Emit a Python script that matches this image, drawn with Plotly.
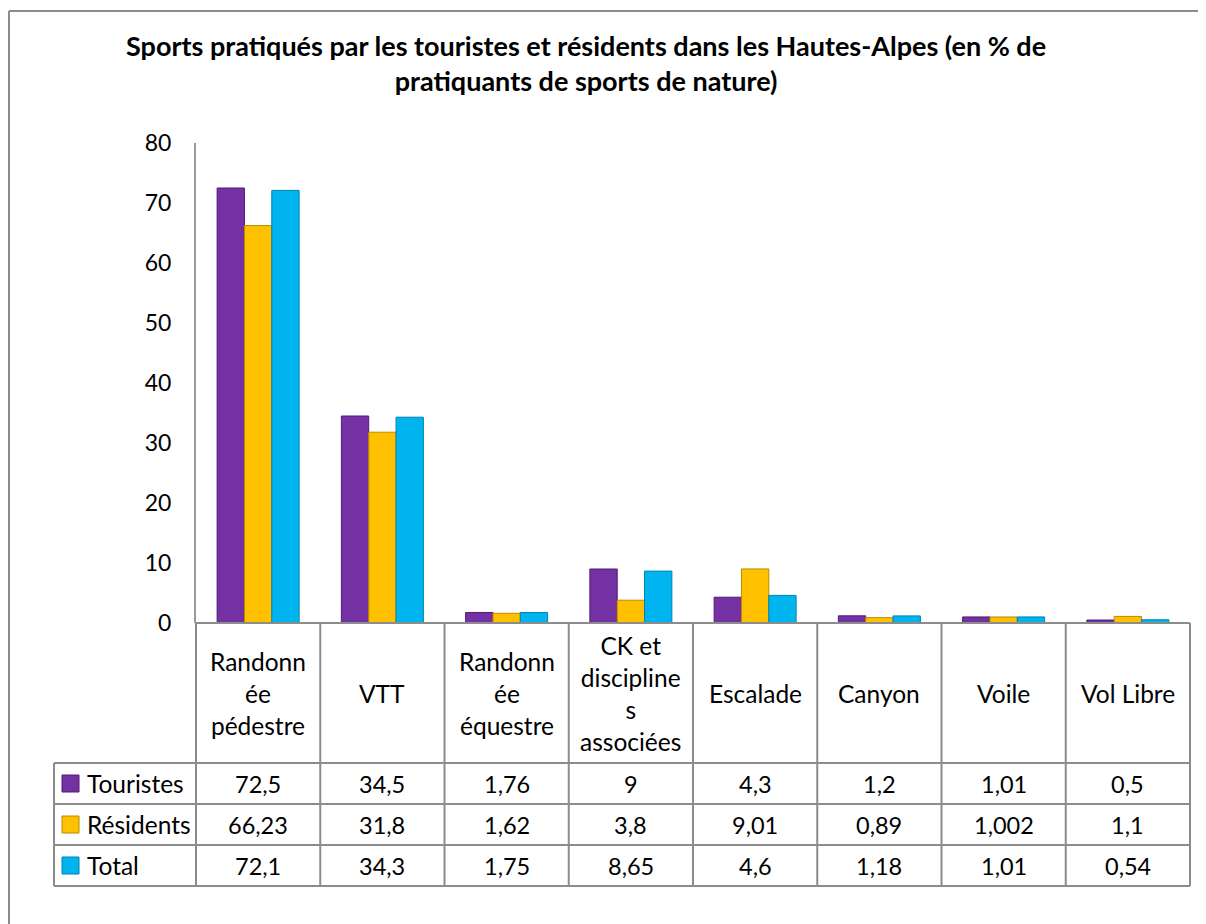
import plotly.graph_objects as go

categories = ["Randonnée pédestre", "VTT", "Randonnée équestre", "CK et disciplines associées",
              "Escalade", "Canyon", "Voile", "Vol Libre"]
category_labels = ["Randonn<br>ée<br>pédestre", "VTT", "Randonn<br>ée<br>équestre",
                   "CK et<br>discipline<br>s<br>associées", "Escalade", "Canyon", "Voile", "Vol Libre"]
series_names = ["Touristes", "Résidents", "Total"]
touristes = [72.5, 34.5, 1.76, 9, 4.3, 1.2, 1.01, 0.5]
residents = [66.23, 31.8, 1.62, 3.8, 9.01, 0.89, 1.002, 1.1]
total = [72.1, 34.3, 1.75, 8.65, 4.6, 1.18, 1.01, 0.54]
y_ticks = [0, 10, 20, 30, 40, 50, 60, 70, 80]

colors = ["#7331A3", "#FFC000", "#00B4EF"]
edge_colors = ["#4F1F73", "#B88A00", "#0083AF"]
FONT = "Lato"

OFF = 8  # page body margin offset
W, H = 1206 - OFF, 924 - OFF
PL, PR, PT, PB = 196, 1190, 143, 623  # plot area bounds in page pixels


def px(x):
    return (x - PL) / (PR - PL)


def py(y):
    return (PB - y) / (PB - PT)


fig = go.Figure()
for name, vals, c, ec in zip(series_names, [touristes, residents, total], colors, edge_colors):
    fig.add_trace(go.Bar(x=categories, y=vals, name=name, marker=dict(color=c, line=dict(color=ec, width=1))))

fig.update_layout(
    width=W, height=H,
    margin=dict(l=PL - OFF, r=W - (PR - OFF), t=PT - OFF, b=H - (PB - OFF), pad=0),
    paper_bgcolor="white", plot_bgcolor="white",
    barmode="group", bargap=0.34, bargroupgap=0,
    showlegend=False,
    font=dict(family=FONT, color="black"),
)
fig.update_yaxes(range=[0, 80], tickvals=y_ticks, showgrid=False, zeroline=False,
                 showline=True, linecolor="#9a9a9a", linewidth=2, ticks="",
                 ticklabelstandoff=18, tickfont=dict(size=23, family=FONT))
fig.update_xaxes(showticklabels=False, showgrid=False, zeroline=False, showline=False, ticks="")

line = dict(color="#8c8c8c", width=2)
shapes = []
# outer chart border (left and top)
shapes.append(dict(type="line", xref="paper", yref="paper", x0=px(9), x1=px(1215), y0=py(11), y1=py(11), line=line))
shapes.append(dict(type="line", xref="paper", yref="paper", x0=px(9), x1=px(9), y0=py(11), y1=py(940), line=line))

col_w = (PR - PL) / len(categories)
row_top = 763
row_h = 41
table_bottom = row_top + row_h * len(series_names)
leg_left = 54
# table horizontals
shapes.append(dict(type="line", xref="paper", yref="paper", x0=px(PL), x1=px(PR), y0=py(PB), y1=py(PB), line=line))
for i in range(len(series_names) + 1):
    y = row_top + i * row_h
    shapes.append(dict(type="line", xref="paper", yref="paper", x0=px(leg_left), x1=px(PR), y0=py(y), y1=py(y), line=line))
# table verticals
for j in range(len(categories) + 1):
    x = PL + j * col_w
    shapes.append(dict(type="line", xref="paper", yref="paper", x0=px(x), x1=px(x), y0=py(PB), y1=py(table_bottom), line=line))
shapes.append(dict(type="line", xref="paper", yref="paper", x0=px(leg_left), x1=px(leg_left), y0=py(row_top), y1=py(table_bottom), line=line))

annotations = []
# title
annotations.append(dict(xref="paper", yref="paper", x=px(586), y=py(63), xanchor="center", yanchor="middle",
                        showarrow=False, align="center",
                        text="<b>Sports pratiqués par les touristes et résidents dans les Hautes-Alpes (en % de<br>pratiquants de sports de nature)</b>",
                        font=dict(size=27, family=FONT, color="black")))
# category headers
for j, lab in enumerate(category_labels):
    annotations.append(dict(xref="paper", yref="paper", x=px(PL + (j + 0.5) * col_w), y=py((PB + row_top) / 2),
                            xanchor="center", yanchor="middle", showarrow=False, align="center",
                            text=lab, font=dict(size=24.5, family=FONT, color="black")))


def fmt(v):
    return f"{v:g}".replace(".", ",")


for i, (name, vals, c, ec) in enumerate(zip(series_names, [touristes, residents, total], colors, edge_colors)):
    yc = row_top + (i + 0.5) * row_h
    shapes.append(dict(type="rect", xref="paper", yref="paper", x0=px(62), x1=px(79), y0=py(yc - 8.5), y1=py(yc + 8.5),
                       fillcolor=c, line=dict(color=ec, width=1)))
    annotations.append(dict(xref="paper", yref="paper", x=px(85), y=py(yc), xanchor="left", yanchor="middle",
                            showarrow=False, text=name, font=dict(size=24.5, family=FONT, color="black")))
    for j, v in enumerate(vals):
        annotations.append(dict(xref="paper", yref="paper", x=px(PL + (j + 0.5) * col_w), y=py(yc),
                                xanchor="center", yanchor="middle", showarrow=False, text=fmt(v),
                                font=dict(size=23.5, family=FONT, color="black")))

fig.update_layout(shapes=shapes, annotations=annotations)
fig.write_html("out.html")
